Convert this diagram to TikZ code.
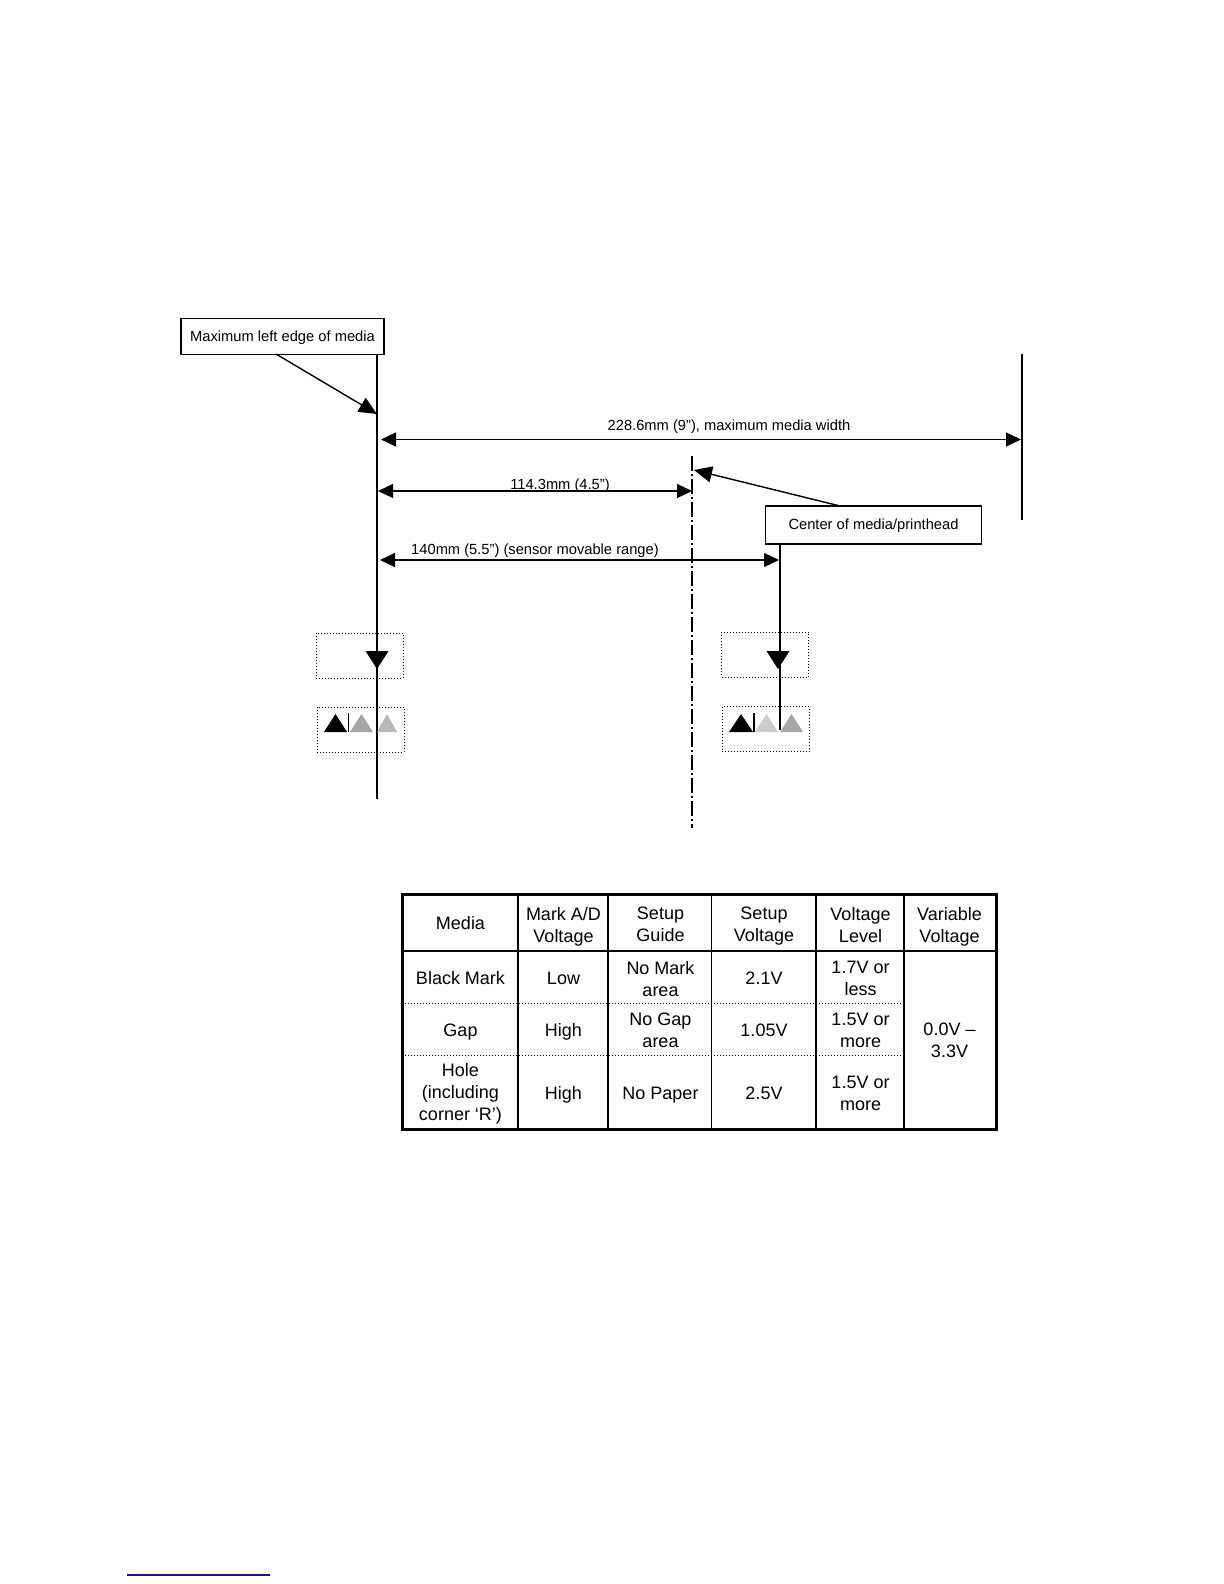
\documentclass[tikz,border=0pt]{standalone}
\usepackage{fontspec}
\setmainfont{Liberation Sans}
\usetikzlibrary{arrows.meta, positioning}
\definecolor{footblue}{RGB}{20,20,130}
\tikzset{
  labelbox/.style={draw, line width=0.7pt, minimum height=18pt, inner sep=0pt, text height=6pt, text depth=1.2pt, font=\fontsize{7.35}{9}\selectfont},
  dimlabel/.style={font=\fontsize{7.35}{9}\selectfont, inner sep=0pt},
  dimline/.style={line width=0.6pt, {Triangle[length=7.5pt,width=7pt]}-{Triangle[length=7.5pt,width=7pt]}},
  leader/.style={line width=0.7pt, -{Triangle[length=9pt,width=8pt]}},
  sensorbox/.style={draw, line width=0.5pt, densely dotted, minimum width=43.5pt, minimum height=22.5pt, inner sep=0pt},
  cell/.style={font=\fontsize{9}{11}\selectfont, align=center, inner sep=0pt, execute at begin node=\strut, execute at end node=\strut, yshift=-1pt},
}
\begin{document}
\begin{tikzpicture}[x=0.5pt, y=-0.5pt]
  \useasboundingbox (0,0) rectangle (1224,1584);
  % Callout boxes
  \node[labelbox, minimum width=101.5pt] (maxbox) at (282.5,336.5) {Maximum left edge of media};
  \node[labelbox, minimum width=108pt, minimum height=19pt] (centerbox) at (873.5,525) {Center of media/printhead};
  % Edge lines
  \coordinate (lefttop) at (377,354);
  \coordinate (leftbot) at (377,799);
  \coordinate (righttop) at (1022,354);
  \coordinate (rightbot) at (1022,520);
  \coordinate (centertop) at (692,456);
  \coordinate (centerbot) at (692,828);
  \coordinate (sensortop) at (780,544);
  \coordinate (sensorbot) at (780,730);
  \draw[line width=0.7pt] (lefttop) -- (leftbot);
  \draw[line width=1.3pt] (righttop) -- (rightbot);
  \draw[line width=0.7pt] (sensortop) -- (sensorbot);
  \draw[line width=0.55pt, dash pattern=on 7.5pt off 1.5pt on 1pt off 1.5pt] (centertop) -- (centerbot);
  % Leaders
  \coordinate (maxfrom) at (276,354);
  \coordinate (maxto) at (377,414);
  \coordinate (centerfrom) at (840,506);
  \coordinate (centerto) at (694,470);
  \draw[leader] (maxfrom) -- (maxto);
  \draw[leader] (centerfrom) -- (centerto);
  % Dimensions
  \coordinate (fullL) at (381,439.5);
  \coordinate (fullR) at (1021,439.5);
  \coordinate (halfL) at (378,491);
  \coordinate (halfR) at (692,491);
  \coordinate (rangeL) at (380,560);
  \coordinate (rangeR) at (779,560);
  \draw[dimline] (fullL) -- (fullR);
  \draw[dimline] (halfL) -- (halfR);
  \draw[dimline] (rangeL) -- (rangeR);
  \node[dimlabel] (fulltxt) at (729,427) {228.6mm (9”), maximum media width};
  \node[dimlabel] (halftxt) at (560,486) {114.3mm (4.5")};
  \node[dimlabel] (rangetxt) at (535,551) {140mm (5.5") (sensor movable range)};
  % Sensor windows
  \foreach \nm/\cx/\cy in {winA/359.5/655.5, winB/360.5/729.5, winC/765/654.5, winD/765.5/729}
    \node[sensorbox] (\nm) at (\cx,\cy) {};
  % Down markers
  \foreach \ax in {377,778}
    \fill (\ax-11.5,651) -- (\ax+11.5,651) -- (\ax,669) -- cycle;
  % Up markers
  \foreach \xa/\xb/\shade in {324/347/black, 350/373/gray!70, 377/397/gray!55, 729/753/black, 755/778/gray!40, 780/803/gray!70}
    \fill[\shade] (\xa,732) -- (\xb,732) -- ({(\xa+\xb)/2},714) -- cycle;
  \foreach \ax in {348.5,754}
    \draw[line width=0.6pt] (\ax,713) -- (\ax,732);
  % Table rules
  \foreach \rx in {518,608,711.5,816,904}
    \draw[line width=0.7pt] (\rx,894) -- (\rx,1129);
  \draw[line width=1.2pt] (402,951) -- (996,951);
  \foreach \ry in {1003,1055}
    \draw[line width=0.5pt, densely dotted] (402,\ry) -- (904,\ry);
  \draw[line width=1.5pt] (402,894) rectangle (996,1129);
  % Table header
  \foreach \nm/\cx/\cy/\lbl in {hA/460.5/923/{Media}, hB/563.5/926/{Mark A/D\\Voltage}, hC/660.5/926/{Setup\\Guide}, hD/764/926/{Setup\\Voltage}, hE/860.5/926/{Voltage\\Level}, hF/949.5/926/{Variable\\Voltage}}
    \node[cell] (\nm) at (\cx,\cy) {\lbl};
  % Table body
  \foreach \nm/\cx/\cy/\lbl in {
    aA/460.5/978/{Black Mark}, aB/563.5/978/{Low}, aC/660.5/980/{No Mark\\area}, aD/764/978/{2.1V}, aE/860.5/980/{1.7V or\\less},
    bA/460.5/1030/{Gap}, bB/563.5/1030/{High}, bC/660.5/1032/{No Gap\\area}, bD/764/1030/{1.05V}, bE/860.5/1032/{1.5V or\\more},
    cA/460.5/1093/{Hole\\(including\\corner ‘R’)}, cB/563.5/1093/{High}, cC/660.5/1093/{No Paper}, cD/764/1093/{2.5V}, cE/860.5/1095/{1.5V or\\more},
    vF/949.5/1042/{0.0V –\\3.3V}}
    \node[cell] (\nm) at (\cx,\cy) {\lbl};
  % Foot rule
  \draw[footblue, line width=0.7pt] (127,1575) -- (270,1575);
\end{tikzpicture}
\end{document}
